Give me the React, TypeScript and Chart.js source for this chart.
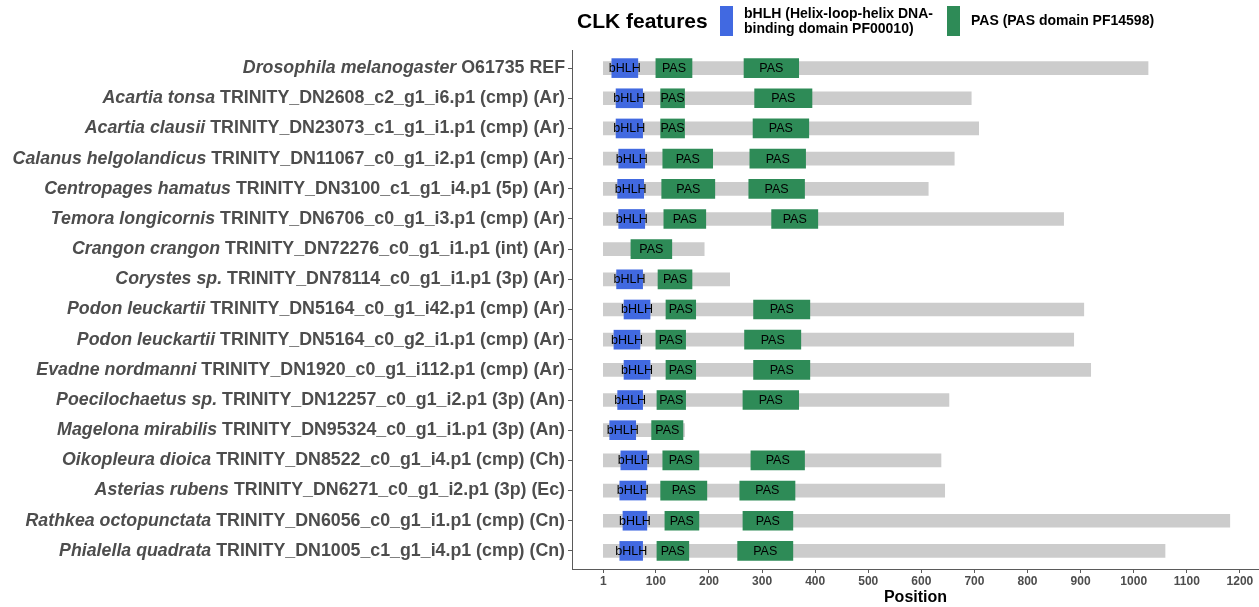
import React, { useEffect, useRef } from "react";
import { Chart, registerables } from "chart.js";

Chart.register(...registerables);

// ---- Data ----
const species = [
  "Drosophila melanogaster",
  "Acartia tonsa",
  "Acartia clausii",
  "Calanus helgolandicus",
  "Centropages hamatus",
  "Temora longicornis",
  "Crangon crangon",
  "Corystes sp.",
  "Podon leuckartii",
  "Podon leuckartii",
  "Evadne nordmanni",
  "Poecilochaetus sp.",
  "Magelona mirabilis",
  "Oikopleura dioica",
  "Asterias rubens",
  "Rathkea octopunctata",
  "Phialella quadrata",
];

const seqIds = [
  "O61735 REF",
  "TRINITY_DN2608_c2_g1_i6.p1 (cmp) (Ar)",
  "TRINITY_DN23073_c1_g1_i1.p1 (cmp) (Ar)",
  "TRINITY_DN11067_c0_g1_i2.p1 (cmp) (Ar)",
  "TRINITY_DN3100_c1_g1_i4.p1 (5p) (Ar)",
  "TRINITY_DN6706_c0_g1_i3.p1 (cmp) (Ar)",
  "TRINITY_DN72276_c0_g1_i1.p1 (int) (Ar)",
  "TRINITY_DN78114_c0_g1_i1.p1 (3p) (Ar)",
  "TRINITY_DN5164_c0_g1_i42.p1 (cmp) (Ar)",
  "TRINITY_DN5164_c0_g2_i1.p1 (cmp) (Ar)",
  "TRINITY_DN1920_c0_g1_i112.p1 (cmp) (Ar)",
  "TRINITY_DN12257_c0_g1_i2.p1 (3p) (An)",
  "TRINITY_DN95324_c0_g1_i1.p1 (3p) (An)",
  "TRINITY_DN8522_c0_g1_i4.p1 (cmp) (Ch)",
  "TRINITY_DN6271_c0_g1_i2.p1 (3p) (Ec)",
  "TRINITY_DN6056_c0_g1_i1.p1 (cmp) (Cn)",
  "TRINITY_DN1005_c1_g1_i4.p1 (cmp) (Cn)",
];

const proteinLength = [1027, 694, 708, 662, 613, 868, 191, 239, 906, 887, 919, 652, 154, 637, 644, 1181, 1059];

const bhlhStart = [17, 25, 25, 30, 28, 30, null, 26, 40, 21, 40, 28, 13, 34, 32, 38, 32];
const bhlhEnd = [66, 75, 75, 79, 77, 79, null, 75, 89, 70, 89, 75, 62, 83, 81, 83, 75];

const pas1Start = [100, 109, 109, 113, 111, 115, 53, 104, 119, 100, 119, 102, 92, 113, 109, 117, 102];
const pas1End = [168, 154, 154, 207, 211, 194, 130, 168, 175, 156, 175, 156, 151, 181, 196, 181, 162];

const pas2Start = [266, 286, 283, 277, 275, 318, null, null, 284, 267, 284, 264, null, 279, 258, 264, 254];
const pas2End = [369, 394, 388, 382, 380, 405, null, null, 390, 373, 390, 369, null, 380, 362, 358, 358];

const xTicks = [1, 100, 200, 300, 400, 500, 600, 700, 800, 900, 1000, 1100, 1200];

const legendTitle = "CLK features";
const bhlhLegend = ["bHLH (Helix-loop-helix DNA-", "binding domain PF00010)"];
const pasLegend = "PAS (PAS domain PF14598)";

const FONT = '"Liberation Sans", Arial, Helvetica, sans-serif';
const GREY_BAR = "#CCCCCC";
const BHLH_COLOR = "#4169E1";
const PAS_COLOR = "#2E8B57";

function pairs(starts: (number | null)[], ends: (number | null)[]) {
  const out: { x: [number, number]; y: number }[] = [];
  starts.forEach((s, i) => {
    const e = ends[i];
    if (s != null && e != null) out.push({ x: [s, e], y: i });
  });
  return out;
}

export default function App() {
  const ref = useRef<HTMLCanvasElement | null>(null);

  useEffect(() => {
    const canvas = ref.current;
    if (!canvas) return;

    const rowLabelPlugin = {
      id: "rowLabels",
      afterDraw(chart: any) {
        const ctx = chart.ctx;
        const yScale = chart.scales.y;
        const right = chart.chartArea.left - 7;
        ctx.save();
        ctx.textBaseline = "middle";
        ctx.fillStyle = "#4D4D4D";
        species.forEach((sp, i) => {
          const y = yScale.getPixelForValue(i);
          const rest = " " + seqIds[i];
          ctx.font = `bold 17.8px ${FONT}`;
          const wRest = ctx.measureText(rest).width;
          ctx.font = `italic bold 17.8px ${FONT}`;
          const wSp = ctx.measureText(sp).width;
          ctx.textAlign = "left";
          const x0 = right - wRest - wSp;
          ctx.fillText(sp, x0, y);
          ctx.font = `bold 17.8px ${FONT}`;
          ctx.fillText(rest, x0 + wSp, y);
        });
        ctx.restore();
      },
    };

    const domainTextPlugin = {
      id: "domainText",
      afterDatasetsDraw(chart: any) {
        const ctx = chart.ctx;
        ctx.save();
        ctx.font = `12.5px ${FONT}`;
        ctx.fillStyle = "#000000";
        ctx.textAlign = "center";
        ctx.textBaseline = "middle";
        chart.data.datasets.forEach((ds: any, di: number) => {
          if (!ds.domainLabel) return;
          const meta = chart.getDatasetMeta(di);
          meta.data.forEach((el: any) => {
            const cx = (el.x + el.base) / 2;
            ctx.fillText(ds.domainLabel, cx, el.y + 0.5);
          });
        });
        ctx.restore();
      },
    };

    const legendPlugin = {
      id: "customLegend",
      afterDraw(chart: any) {
        const ctx = chart.ctx;
        ctx.save();
        ctx.textBaseline = "middle";
        ctx.textAlign = "left";
        ctx.fillStyle = "#000000";
        ctx.font = `bold 21px ${FONT}`;
        ctx.fillText(legendTitle, 577, 22);
        ctx.fillStyle = BHLH_COLOR;
        ctx.fillRect(720, 6, 13, 30);
        ctx.fillStyle = PAS_COLOR;
        ctx.fillRect(947, 6, 13, 30);
        ctx.fillStyle = "#000000";
        ctx.font = `bold 14px ${FONT}`;
        ctx.fillText(bhlhLegend[0], 744, 14);
        ctx.fillText(bhlhLegend[1], 744, 29);
        ctx.fillText(pasLegend, 971, 21);
        ctx.restore();
      },
    };

    const chart = new Chart(canvas, {
      type: "bar",
      data: {
        datasets: [
          {
            label: "Protein",
            data: proteinLength.map((len, i) => ({ x: [1, len] as [number, number], y: i })),
            backgroundColor: GREY_BAR,
            barThickness: 13,
            grouped: false,
            order: 3,
          } as any,
          {
            label: "bHLH",
            domainLabel: "bHLH",
            data: pairs(bhlhStart, bhlhEnd),
            backgroundColor: BHLH_COLOR,
            barThickness: 19,
            grouped: false,
            order: 2,
          } as any,
          {
            label: "PAS",
            domainLabel: "PAS",
            data: [...pairs(pas1Start, pas1End), ...pairs(pas2Start, pas2End)],
            backgroundColor: PAS_COLOR,
            barThickness: 19,
            grouped: false,
            order: 1,
          } as any,
        ],
      },
      options: {
        indexAxis: "y",
        animation: false,
        responsive: false,
        devicePixelRatio: 1,
        layout: { padding: { top: 50, left: 0, right: 0, bottom: 0 } },
        plugins: {
          legend: { display: false },
          tooltip: { enabled: false },
        },
        scales: {
          x: {
            type: "linear",
            min: -58,
            max: 1236,
            offset: false,
            afterBuildTicks: (scale: any) => {
              scale.ticks = xTicks.map((v) => ({ value: v }));
            },
            afterFit: (scale: any) => {
              scale.height = 38;
            },
            border: { display: true, color: "#5A5A5A", width: 1 },
            grid: {
              display: true,
              offset: false,
              drawOnChartArea: false,
              drawTicks: true,
              tickLength: 4,
              color: "#5A5A5A",
            },
            ticks: {
              autoSkip: false,
              maxRotation: 0,
              padding: 1,
              color: "#4D4D4D",
              font: { family: FONT, size: 12, weight: "bold" },
              callback: (v: any) => String(v),
            },
            title: {
              display: true,
              text: "Position",
              color: "#000000",
              font: { family: FONT, size: 16, weight: "bold" },
              padding: { top: 0, bottom: 0 },
            },
          },
          y: {
            type: "linear",
            reverse: true,
            min: -0.6,
            max: 16.6,
            offset: false,
            afterBuildTicks: (scale: any) => {
              scale.ticks = species.map((_, i) => ({ value: i }));
            },
            afterFit: (scale: any) => {
              scale.width = 572;
            },
            border: { display: true, color: "#5A5A5A", width: 1 },
            grid: {
              display: true,
              offset: false,
              drawOnChartArea: false,
              drawTicks: true,
              tickLength: 4,
              color: "#5A5A5A",
            },
            ticks: {
              callback: () => "",
              font: { family: FONT, size: 18 },
            },
          },
        },
      } as any,
      plugins: [rowLabelPlugin, domainTextPlugin, legendPlugin],
    });

    return () => chart.destroy();
  }, []);

  return (
    <div style={{ position: "absolute", left: 0, top: 0, width: 1259, height: 607, background: "#fff" }}>
      <canvas ref={ref} width={1259} height={607} style={{ display: "block", width: 1259, height: 607 }} />
    </div>
  );
}
